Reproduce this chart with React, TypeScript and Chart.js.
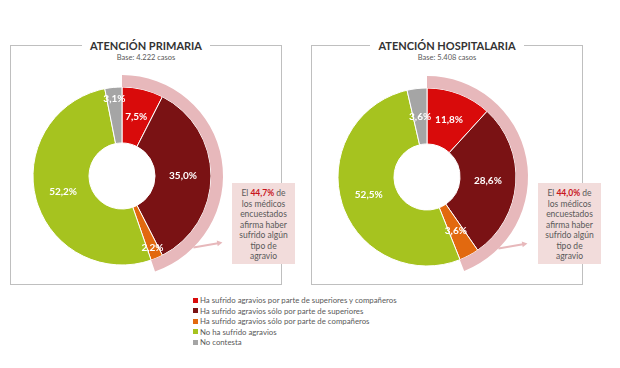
import React, { useEffect, useRef } from 'react';
import { Chart, registerables } from 'chart.js';

Chart.register(...registerables);

const categories = [
  'Ha sufrido agravios por parte de superiores y compañeros',
  'Ha sufrido agravios sólo por parte de superiores',
  'Ha sufrido agravios sólo por parte de compañeros',
  'No ha sufrido agravios',
  'No contesta',
];
const colors = ['#D90B0B', '#7A1214', '#E2690F', '#A6C31F', '#A5A5A5'];
const primariaValues = [7.5, 35.0, 2.2, 52.2, 3.1];
const hospitalariaValues = [11.8, 28.6, 3.6, 52.5, 3.6];
const primariaAgravio = 44.7;
const hospitalariaAgravio = 44.0;
const primariaTitle = 'ATENCIÓN PRIMARIA';
const hospitalariaTitle = 'ATENCIÓN HOSPITALARIA';
const primariaBase = 'Base: 4.222 casos';
const hospitalariaBase = 'Base: 5.408 casos';
const calloutLines = ['los médicos', 'encuestados', 'afirma haber', 'sufrido algún', 'tipo de', 'agravio'];

const PINK = '#E7B8BB';
const BOX = '#F2DCDB';
const FONT = 'Lato, "Open Sans", sans-serif';
const CANVAS = 230;

const fmt = (v: number) => v.toFixed(1).replace('.', ',') + '%';

function Donut({ values, agravio, cx, cy }: { values: number[]; agravio: number; cx: number; cy: number }) {
  const ref = useRef<HTMLCanvasElement>(null);
  useEffect(() => {
    if (!ref.current) return;
    const labelPlugin = {
      id: 'sliceLabels',
      afterDatasetsDraw(chart: any) {
        const ctx = chart.ctx;
        const meta = chart.getDatasetMeta(1);
        ctx.save();
        ctx.font = `bold 10px ${FONT}`;
        ctx.fillStyle = '#ffffff';
        ctx.textAlign = 'center';
        ctx.textBaseline = 'middle';
        meta.data.forEach((arc: any, i: number) => {
          const p = arc.getProps(['x', 'y', 'startAngle', 'endAngle', 'innerRadius', 'outerRadius'], true);
          const v = values[i];
          const mid = (p.startAngle + p.endAngle) / 2;
          const f = v < 3.5 ? 0.8 : 0.5;
          const r = p.innerRadius + (p.outerRadius - p.innerRadius) * f;
          ctx.fillText(fmt(v), p.x + Math.cos(mid) * r, p.y + Math.sin(mid) * r);
        });
        // arrow from pink ring toward callout
        const ring = chart.getDatasetMeta(0).data[0].getProps(['x', 'y', 'outerRadius'], true);
        const a = Math.PI / 4;
        const sx = ring.x + Math.cos(a) * ring.outerRadius;
        const sy = ring.y + Math.sin(a) * ring.outerRadius;
        const ex = sx + 29;
        const ey = sy - 5;
        ctx.strokeStyle = PINK;
        ctx.fillStyle = PINK;
        ctx.lineWidth = 2;
        ctx.beginPath();
        ctx.moveTo(sx, sy);
        ctx.lineTo(ex - 3, ey + 0.5);
        ctx.stroke();
        const ang = Math.atan2(ey - sy, ex - sx);
        ctx.beginPath();
        ctx.moveTo(ex, ey);
        ctx.lineTo(ex - 6 * Math.cos(ang - 0.5), ey - 6 * Math.sin(ang - 0.5));
        ctx.lineTo(ex - 6 * Math.cos(ang + 0.5), ey - 6 * Math.sin(ang + 0.5));
        ctx.closePath();
        ctx.fill();
        ctx.restore();
      },
    };
    const chart = new Chart(ref.current, {
      type: 'doughnut',
      data: {
        labels: categories,
        datasets: [
          {
            data: [agravio, 100 - agravio],
            backgroundColor: [PINK, 'rgba(0,0,0,0)'],
            borderWidth: 0,
            weight: 12,
          } as any,
          {
            data: values,
            backgroundColor: colors,
            borderColor: '#ffffff',
            borderWidth: 1,
            weight: 56,
          } as any,
        ],
      },
      options: {
        responsive: false,
        animation: false,
        events: [],
        radius: 101,
        cutout: '32.7%',
        layout: { padding: 0 },
        plugins: { legend: { display: false }, tooltip: { enabled: false } },
      } as any,
      plugins: [labelPlugin],
    });
    return () => chart.destroy();
  }, [values, agravio]);
  return (
    <canvas
      ref={ref}
      width={CANVAS}
      height={CANVAS}
      style={{ position: 'absolute', left: cx - CANVAS / 2, top: cy - CANVAS / 2, width: CANVAS, height: CANVAS }}
    />
  );
}

function Panel({ left, title, base }: { left: number; title: string; base: string }) {
  return (
    <>
      <div
        style={{
          position: 'absolute',
          left,
          top: 45,
          width: 272,
          height: 240,
          border: '1px solid #BFBFBF',
          boxSizing: 'border-box',
        }}
      />
      <div style={{ position: 'absolute', left, top: 36, width: 272, textAlign: 'center', lineHeight: '16px' }}>
        <span
          style={{
            background: '#fff',
            padding: '0 8px',
            font: `bold 11px/16px ${FONT}`,
            color: '#333333',
          }}
        >
          {title}
        </span>
      </div>
      <div
        style={{
          position: 'absolute',
          left,
          top: 53,
          width: 272,
          textAlign: 'center',
          font: `7.5px/10px ${FONT}`,
          color: '#595959',
        }}
      >
        {base}
      </div>
    </>
  );
}

function Callout({ left, pct }: { left: number; pct: number }) {
  return (
    <div
      style={{
        position: 'absolute',
        left,
        top: 183,
        width: 63,
        height: 81,
        background: BOX,
        boxSizing: 'border-box',
        paddingTop: 5,
        textAlign: 'center',
        font: `8.5px/10.5px ${FONT}`,
        color: '#595959',
      }}
    >
      <div>
        El <span style={{ color: '#C8141C', fontWeight: 'bold' }}>{fmt(pct)}</span> de
      </div>
      {calloutLines.map((l) => (
        <div key={l}>{l}</div>
      ))}
    </div>
  );
}

export default function App() {
  return (
    <div
      style={{
        position: 'absolute',
        left: 0,
        top: 0,
        width: 620,
        height: 368,
        background: '#fff',
        fontFamily: FONT,
        overflow: 'hidden',
      }}
    >
      <Panel left={10} title={primariaTitle} base={primariaBase} />
      <Panel left={311} title={hospitalariaTitle} base={hospitalariaBase} />
      <Donut values={primariaValues} agravio={primariaAgravio} cx={122} cy={176} />
      <Donut values={hospitalariaValues} agravio={hospitalariaAgravio} cx={427} cy={177} />
      <Callout left={232} pct={primariaAgravio} />
      <Callout left={538} pct={hospitalariaAgravio} />
      <div style={{ position: 'absolute', left: 193, top: 295 }}>
        {categories.map((c, i) => (
          <div
            key={c}
            style={{ display: 'flex', alignItems: 'center', height: 10.5, font: `7.8px/10.5px ${FONT}`, color: '#595959' }}
          >
            <span style={{ display: 'inline-block', width: 5, height: 5, background: colors[i], marginRight: 2 }} />
            {c}
          </div>
        ))}
      </div>
    </div>
  );
}
